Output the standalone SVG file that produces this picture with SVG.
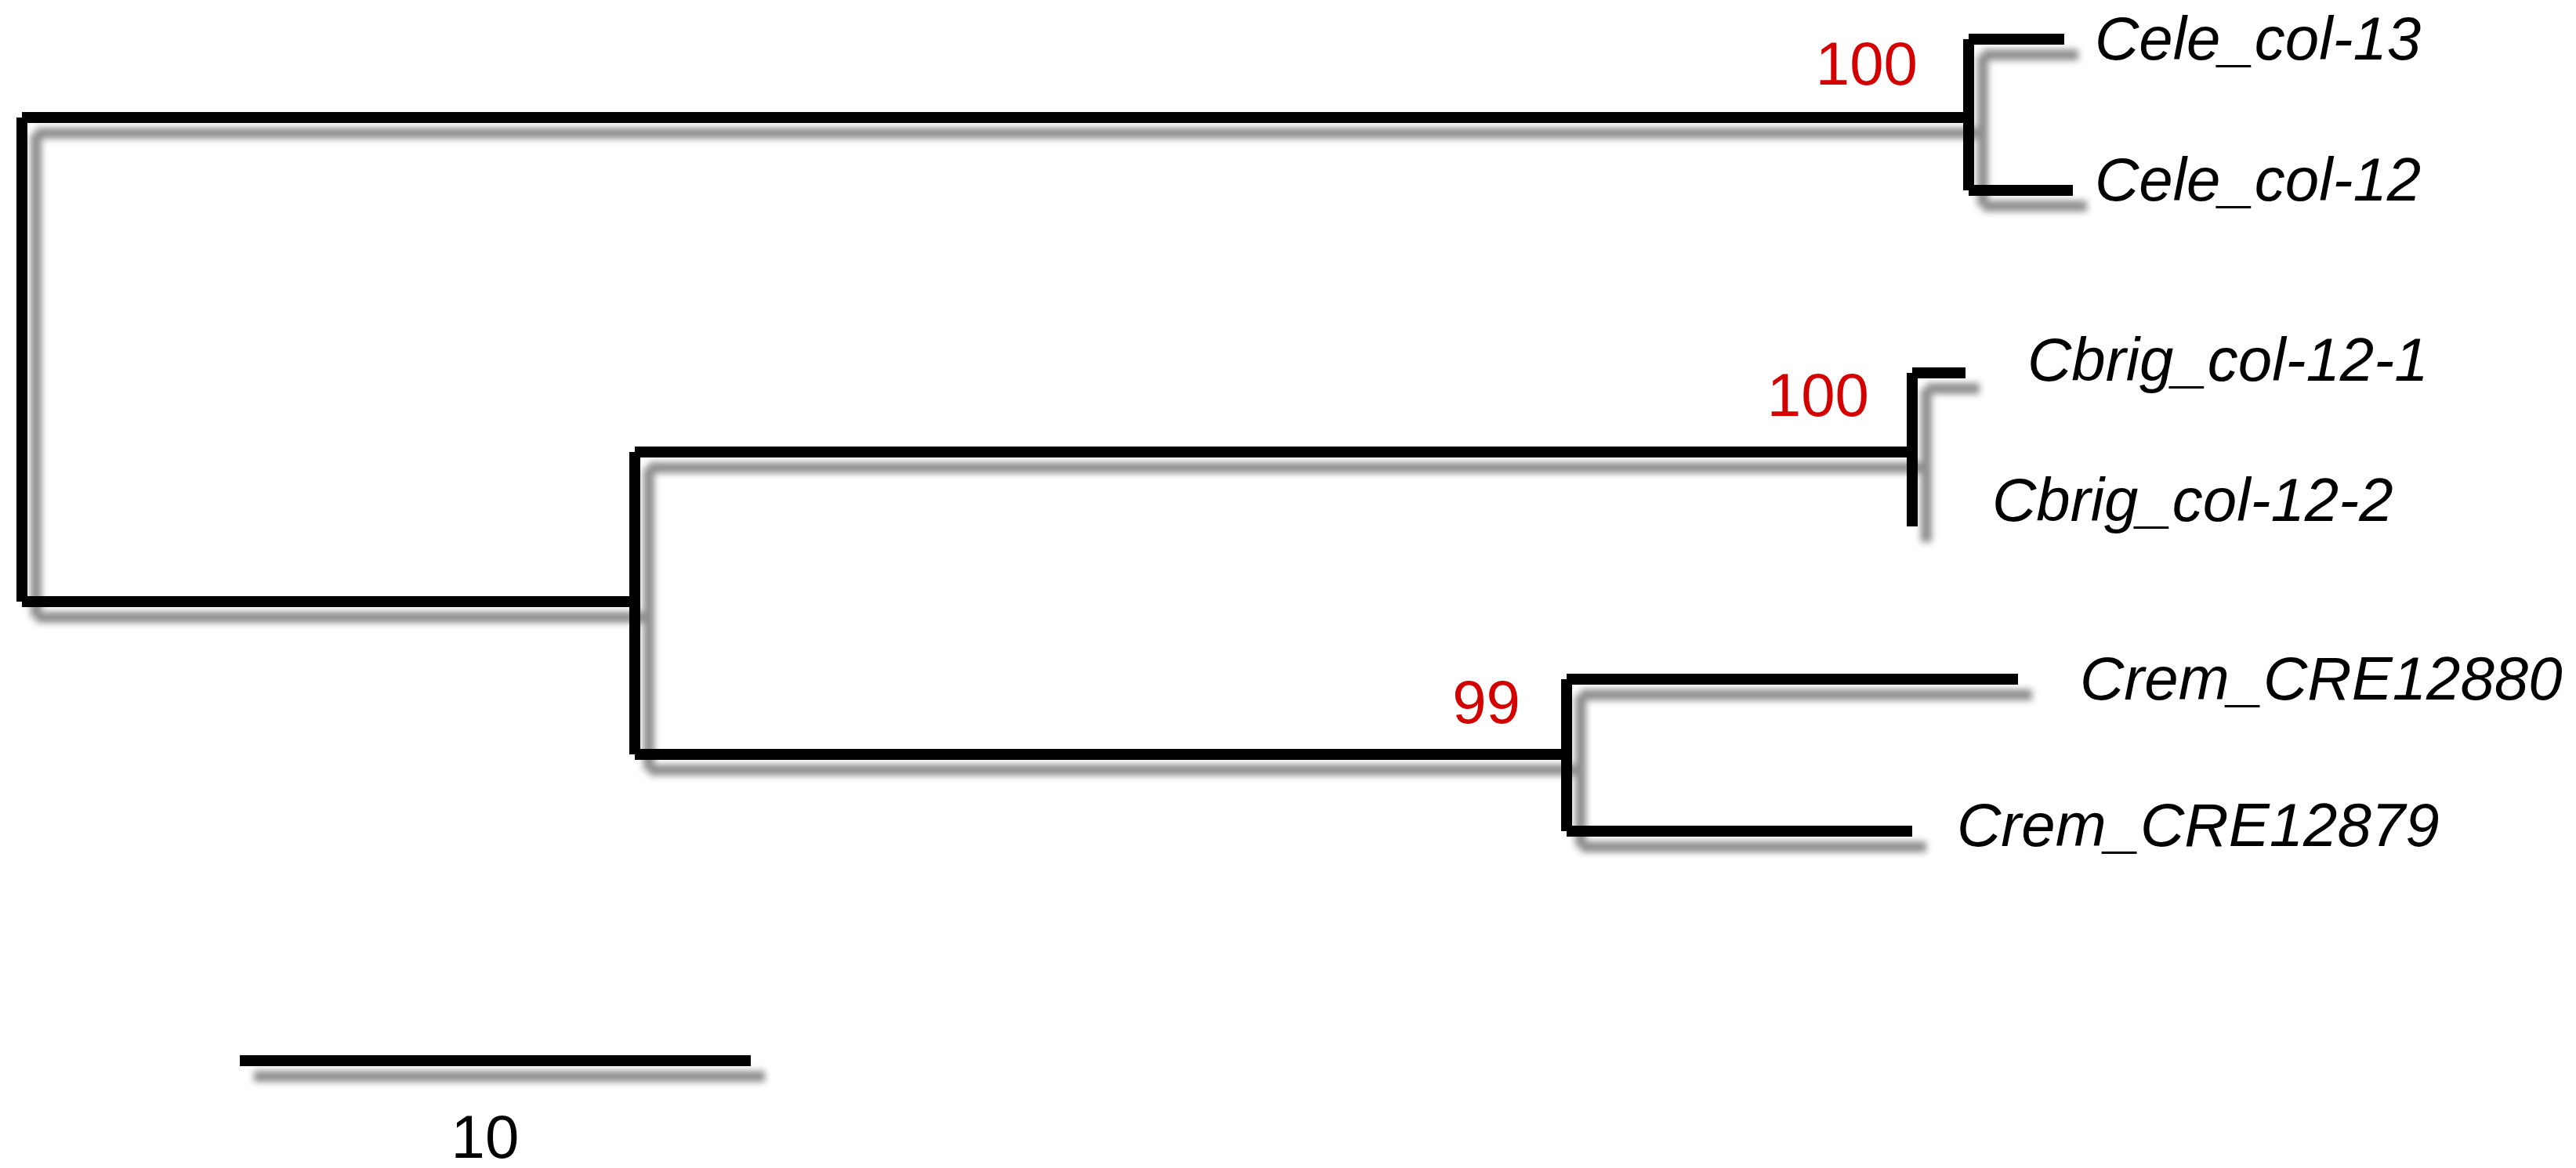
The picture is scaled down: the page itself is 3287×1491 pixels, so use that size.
<svg xmlns="http://www.w3.org/2000/svg" width="3287" height="1491" viewBox="0 0 3287 1491">
<defs>
<filter id="shadow" filterUnits="userSpaceOnUse" x="0" y="0" width="3287" height="1491">
<feOffset in="SourceAlpha" dx="18" dy="20" result="off"/>
<feGaussianBlur in="off" stdDeviation="4.5" result="blur"/>
<feFlood flood-color="#8e8e8e"/>
<feComposite in2="blur" operator="in" result="sh"/>
<feMerge><feMergeNode in="sh"/><feMergeNode in="SourceGraphic"/></feMerge>
</filter>
</defs>
<style>
.br{stroke:#000;stroke-width:14;stroke-linecap:butt;fill:none}
.lab{font-family:"Liberation Sans",Arial,sans-serif;font-style:italic;font-size:78px;fill:#000}
.bs{font-family:"Liberation Sans",Arial,sans-serif;font-size:78px;fill:#d40000;text-anchor:end}
.sc{font-family:"Liberation Sans",Arial,sans-serif;font-size:78px;fill:#000;text-anchor:middle}
</style>
<rect width="3287" height="1491" fill="#fff"/>
<g id="connectors" filter="url(#shadow)">
<line class="br" x1="28" y1="150" x2="28" y2="768"/>
<line class="br" x1="28" y1="150" x2="2512" y2="150"/>
<line class="br" x1="2512" y1="50" x2="2512" y2="243"/>
<line class="br" x1="2512" y1="50" x2="2634" y2="50"/>
<line class="br" x1="2512" y1="243" x2="2645" y2="243"/>
<line class="br" x1="28" y1="768" x2="810" y2="768"/>
<line class="br" x1="810" y1="577" x2="810" y2="963"/>
<line class="br" x1="810" y1="577" x2="2440" y2="577"/>
<line class="br" x1="2440" y1="476" x2="2440" y2="672"/>
<line class="br" x1="2440" y1="476" x2="2508" y2="476"/>
<line class="br" x1="810" y1="963" x2="1999" y2="963"/>
<line class="br" x1="1999" y1="867" x2="1999" y2="1061"/>
<line class="br" x1="1999" y1="867" x2="2575" y2="867"/>
<line class="br" x1="1999" y1="1061" x2="2440" y2="1061"/>
<line class="br" x1="306" y1="1354" x2="958" y2="1354"/>
</g>
<g id="leaf-cele13"><text class="lab" x="2673" y="76">Cele_col-13</text></g>
<g id="leaf-cele12"><text class="lab" x="2673" y="256">Cele_col-12</text></g>
<g id="leaf-cbrig1"><text class="lab" x="2587" y="486">Cbrig_col-12-1</text></g>
<g id="leaf-cbrig2"><text class="lab" x="2542" y="665">Cbrig_col-12-2</text></g>
<g id="leaf-crem80"><text class="lab" x="2654" y="893">Crem_CRE12880</text></g>
<g id="leaf-crem79"><text class="lab" x="2497" y="1080">Crem_CRE12879</text></g>
<g id="node-cele"><text class="bs" x="2447" y="108">100</text></g>
<g id="node-cbrig"><text class="bs" x="2385" y="531">100</text></g>
<g id="node-crem"><text class="bs" x="1940" y="923">99</text></g>
<g id="scale"><text class="sc" x="619" y="1478">10</text></g>
</svg>
